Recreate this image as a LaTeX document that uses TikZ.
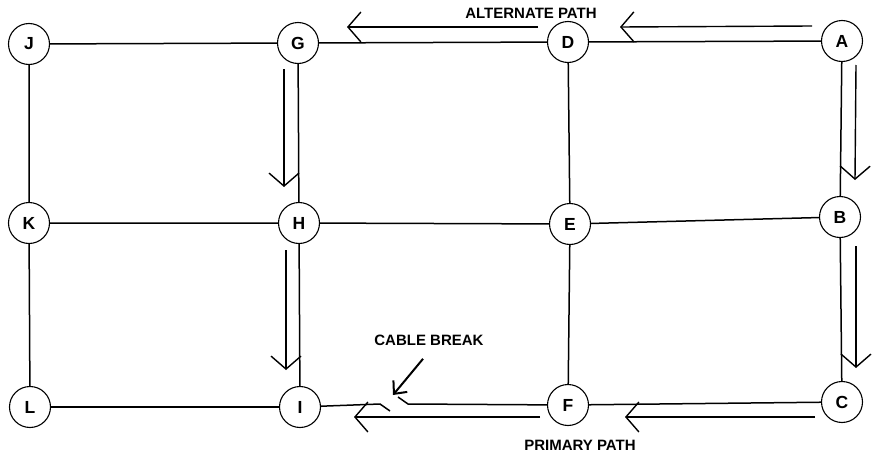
\documentclass[tikz,border=0pt]{standalone}
\usepackage{fontspec}
\setmainfont{Liberation Sans}
\usetikzlibrary{arrows.meta}

\begin{document}
\begin{tikzpicture}[
  x=1pt, y=-1pt,
  station/.style={draw, circle, minimum size=41pt, inner sep=0pt, line width=1.1pt, font=\fontsize{17.5}{20}\selectfont\bfseries},
  cable/.style={line width=1.5pt},
  route/.style={line width=1.4pt, -{Straight Barb[length=13pt, width=30pt, line width=1.4pt]}},
  lbl/.style={font=\fontsize{15}{18}\selectfont\bfseries}
]
\useasboundingbox (0,0) rectangle (879,455);
% stations
\node[station] (J) at (29,44) {J};
\node[station] (G) at (298,43) {G};
\node[station] (D) at (568,42) {D};
\node[station] (A) at (842,41) {A};
\node[station] (K) at (29,223) {K};
\node[station] (H) at (299,223) {H};
\node[station] (E) at (570,224) {E};
\node[station] (B) at (840,217) {B};
\node[station] (L) at (30,407) {L};
\node[station] (I) at (300,407) {I};
\node[station] (F) at (568,405) {F};
\node[station] (C) at (842,402) {C};
% cables
\draw[cable] (J)--(G)--(D)--(A);
\draw[cable] (K)--(H)--(E)--(B);
\draw[cable] (L)--(I);
\draw[cable] (F)--(C);
\draw[cable] (J)--(K)--(L);
\draw[cable] (G)--(H)--(I);
\draw[cable] (D)--(E)--(F);
\draw[cable] (A)--(B)--(C);
% broken cable between I and F
\coordinate (brkL) at (380,404);
\coordinate (brkLend) at (390,411);
\coordinate (brkR) at (398,397);
\coordinate (brkRend) at (408,404);
\draw[cable] (I) -- (brkL) -- (brkLend);
\draw[cable] (brkR) -- (brkRend) -- (F);
% alternate path
\draw[route] ([shift={(-30,-15)}]A.center) -- ([shift={(52,-15)}]D.center);
\draw[route] ([shift={(-30,-15)}]D.center) -- ([shift={(49,-16)}]G.center);
\draw[route] ([shift={(-14,26)}]G.center) -- ([shift={(-15,-36)}]H.center);
\draw[route] ([shift={(-13,27)}]H.center) -- ([shift={(-14,-37)}]I.center);
% primary path
\draw[route] ([shift={(14,24)}]A.center) -- ([shift={(15,-37)}]B.center);
\draw[route] ([shift={(16,29)}]B.center) -- ([shift={(14,-34)}]C.center);
\draw[route] ([shift={(-27,15)}]C.center) -- ([shift={(57,12)}]F.center);
\draw[route] ([shift={(-28,12)}]F.center) -- ([shift={(54,10)}]I.center);
% labels
\node[lbl] (alt) at (531,13) {ALTERNATE PATH};
\node[lbl] (prim) at (580,445) {PRIMARY PATH};
\node[lbl] (brk) at (429,340) {CABLE BREAK};
\coordinate (brkTip) at (393,395);
\draw[line width=2pt, -{Straight Barb[length=10pt, width=18pt]}] ([shift={(-6,10)}]brk.south) -- (brkTip);
\end{tikzpicture}
\end{document}
